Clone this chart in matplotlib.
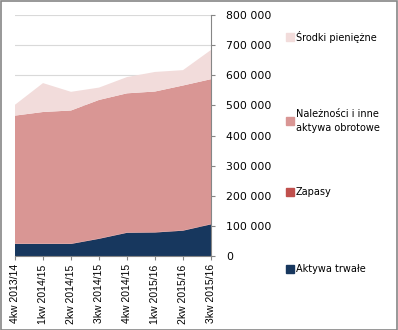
import numpy as np
import matplotlib.pyplot as plt
from matplotlib.patches import Rectangle
from matplotlib.ticker import FuncFormatter

quarters = ['4kw 2013/14', '1kw 2014/15', '2kw 2014/15', '3kw 2014/15',
            '4kw 2014/15', '1kw 2015/16', '2kw 2015/16', '3kw 2015/16']
aktywa_trwale = [40000, 40000, 40000, 57000, 77000, 78000, 84000, 105000]
zapasy = [1000, 1000, 1000, 1000, 1000, 1000, 1000, 1000]
naleznosci = [425000, 437000, 442000, 460000, 462000, 467000, 481000, 481000]
srodki = [36000, 96000, 62000, 41000, 54000, 65000, 51000, 97000]

labels = ['Aktywa trwałe', 'Zapasy', 'Należności i inne\naktywa obrotowe', 'Środki pieniężne']
colors = ['#17375E', '#C0504D', '#D99694', '#F2DCDB']

plt.rcParams['font.family'] = ['DejaVu Sans']
fig = plt.figure(figsize=(3.98, 3.30), dpi=100)
ax = fig.add_axes([15 / 398, 74 / 330, 196 / 398, 241 / 330])

x = np.arange(len(quarters))
ax.stackplot(x, aktywa_trwale, zapasy, naleznosci, srodki, colors=colors, zorder=2)

ax.set_xlim(0, len(quarters) - 1)
ax.set_ylim(0, 800000)
ax.set_yticks(np.arange(0, 800001, 100000))
ax.yaxis.set_major_formatter(FuncFormatter(lambda v, p: f'{int(v):,}'.replace(',', ' ')))
ax.yaxis.tick_right()
ax.grid(axis='y', color='#D9D9D9', linewidth=0.8, zorder=0)
ax.set_xticks(x)
ax.set_xticklabels(quarters, rotation=90, family='Liberation Sans', fontsize=7.5)
ax.tick_params(axis='y', length=3, width=0.8, color='#868686', labelsize=7.8, pad=8)
ax.tick_params(axis='x', length=3, width=0.8, color='#868686', pad=3)

for s in ['left', 'top']:
    ax.spines[s].set_visible(False)
for s in ['right', 'bottom']:
    ax.spines[s].set_color('#868686')
    ax.spines[s].set_linewidth(0.8)

# legend on the right, spread out like the original
leg_y = [37, 121, 192, 269]
order = [3, 2, 1, 0]
for yy, i in zip(leg_y, order):
    fig.patches.append(Rectangle((286 / 398, 1 - (yy + 4) / 330), 8 / 398, 8 / 330,
                                 transform=fig.transFigure, color=colors[i]))
    fig.text(296 / 398, 1 - yy / 330, labels[i], fontsize=7, va='center', ha='left',
             linespacing=1.6)

fig.patches.append(Rectangle((0.5 / 398, 0.5 / 330), 396.5 / 398, 328.5 / 330,
                             transform=fig.transFigure, fill=False,
                             edgecolor='#868686', linewidth=1.2))

fig.savefig('out.png', dpi=100)
